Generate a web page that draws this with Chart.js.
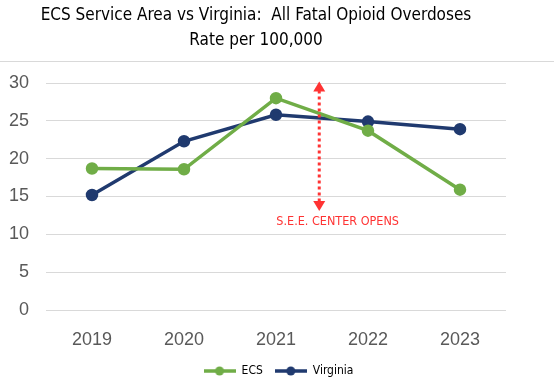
<!DOCTYPE html>
<html>
<head>
<meta charset="utf-8">
<script src="https://cdn.jsdelivr.net/npm/chart.js@4.4.1/dist/chart.umd.min.js"></script>
<style>
html,body{margin:0;padding:0;background:#fff;}
#wrap{width:557px;height:387px;position:relative;}
</style>
</head>
<body>
<div id="wrap"><canvas id="c" width="557" height="387"></canvas></div>
<script>
const categories = ['2019', '2020', '2021', '2022', '2023'];
const ecsValues = [18.7, 18.6, 28.0, 23.7, 15.9];
const virginiaValues = [15.2, 22.3, 25.8, 24.9, 23.9];
const yTicks = [0, 5, 10, 15, 20, 25, 30];
const titleLines = ['ECS Service Area vs Virginia:  All Fatal Opioid Overdoses', 'Rate per 100,000'];
const annotationText = 'S.E.E. CENTER OPENS';
const arrowX = [2.47];
const arrowYRange = [30.2, 13.1];
const annotationPos = [2.67, 11.6];

const ECS_COLOR = '#70ad47';
const VA_COLOR = '#203a6f';
const FONT = "'Liberation Sans', 'DejaVu Sans', sans-serif";
const TITLE_FONT = "'DejaVu Sans Condensed', 'DejaVu Sans', sans-serif";

function legendIcon(color) {
  const cv = document.createElement('canvas');
  cv.width = 32; cv.height = 10;
  const g = cv.getContext('2d');
  g.strokeStyle = color; g.lineWidth = 3.5;
  g.beginPath(); g.moveTo(0, 5); g.lineTo(32, 5); g.stroke();
  g.fillStyle = color;
  g.beginPath(); g.arc(16, 5, 4.5, 0, Math.PI * 2); g.fill();
  return cv;
}

const decorPlugin = {
  id: 'decor',
  afterDraw(chart) {
    const ctx = chart.ctx;
    const x = chart.scales.x, y = chart.scales.y;
    ctx.save();
    // top frame line
    ctx.strokeStyle = '#d9d9d9'; ctx.lineWidth = 1;
    ctx.beginPath(); ctx.moveTo(0, 61.5); ctx.lineTo(554, 61.5); ctx.stroke();
    // title
    ctx.fillStyle = '#000';
    ctx.font = "17px " + TITLE_FONT;
    ctx.textAlign = 'center'; ctx.textBaseline = 'middle';
    ctx.fillText(titleLines[0], 256, 16);
    ctx.fillText(titleLines[1], 256, 41);
    // arrow
    const ax = x.getPixelForValue(arrowX[0]);
    const yTop = y.getPixelForValue(arrowYRange[0]);
    const yBot = y.getPixelForValue(arrowYRange[1]);
    ctx.strokeStyle = '#ff3333'; ctx.fillStyle = '#ff3333';
    ctx.lineWidth = 3; ctx.setLineDash([3, 3]);
    ctx.beginPath(); ctx.moveTo(ax, yTop + 9); ctx.lineTo(ax, yBot - 9); ctx.stroke();
    ctx.setLineDash([]);
    ctx.beginPath(); ctx.moveTo(ax, yTop); ctx.lineTo(ax - 6, yTop + 10); ctx.lineTo(ax + 6, yTop + 10); ctx.closePath(); ctx.fill();
    ctx.beginPath(); ctx.moveTo(ax, yBot); ctx.lineTo(ax - 6, yBot - 10); ctx.lineTo(ax + 6, yBot - 10); ctx.closePath(); ctx.fill();
    ctx.font = "12.5px " + TITLE_FONT;
    ctx.fillText(annotationText, x.getPixelForValue(annotationPos[0]), y.getPixelForValue(annotationPos[1]));
    ctx.restore();
  }
};

new Chart(document.getElementById('c'), {
  type: 'line',
  data: {
    labels: categories,
    datasets: [
      { label: 'ECS', data: ecsValues, borderColor: ECS_COLOR, backgroundColor: ECS_COLOR, borderWidth: 3.5, pointRadius: 4.5, pointHoverRadius: 4.5, tension: 0 },
      { label: 'Virginia', data: virginiaValues, borderColor: VA_COLOR, backgroundColor: VA_COLOR, borderWidth: 3.5, pointRadius: 4.5, pointHoverRadius: 4.5, tension: 0 }
    ]
  },
  options: {
    responsive: false,
    animation: false,
    layout: { padding: { top: 83, right: 0, left: 0, bottom: 0 } },
    plugins: {
      title: { display: false },
      tooltip: { enabled: false },
      legend: {
        position: 'bottom',
        labels: {
          font: { size: 12, family: TITLE_FONT },
          color: '#595959',
          usePointStyle: true,
          pointStyleWidth: 32,
          padding: 12,
          boxHeight: 10,
          generateLabels(chart) {
            return chart.data.datasets.map((ds, i) => ({
              text: ds.label,
              pointStyle: legendIcon(ds.borderColor),
              fillStyle: ds.borderColor,
              strokeStyle: ds.borderColor,
              lineWidth: 0,
              datasetIndex: i,
              hidden: false
            }));
          }
        }
      }
    },
    scales: {
      x: {
        offset: true,
        grid: { display: false, drawTicks: false },
        border: { display: false },
        ticks: { color: '#595959', font: { size: 18, family: FONT }, padding: 19 },
        afterFit(s) { s.height = 43; }
      },
      y: {
        min: 0, max: 30,
        afterBuildTicks(s) { s.ticks = yTicks.map(v => ({ value: v })); },
        grid: { color: '#d9d9d9', lineWidth: 1, drawTicks: false },
        border: { display: false },
        ticks: { color: '#595959', font: { size: 18, family: FONT }, padding: 17 },
        afterFit(s) { s.width = 46; }
      },
      yRight: {
        position: 'right',
        min: 0, max: 30,
        grid: { display: false, drawTicks: false },
        border: { display: false },
        ticks: { display: false },
        afterFit(s) { s.width = 51; }
      }
    }
  },
  plugins: [decorPlugin]
});
</script>
</body>
</html>
